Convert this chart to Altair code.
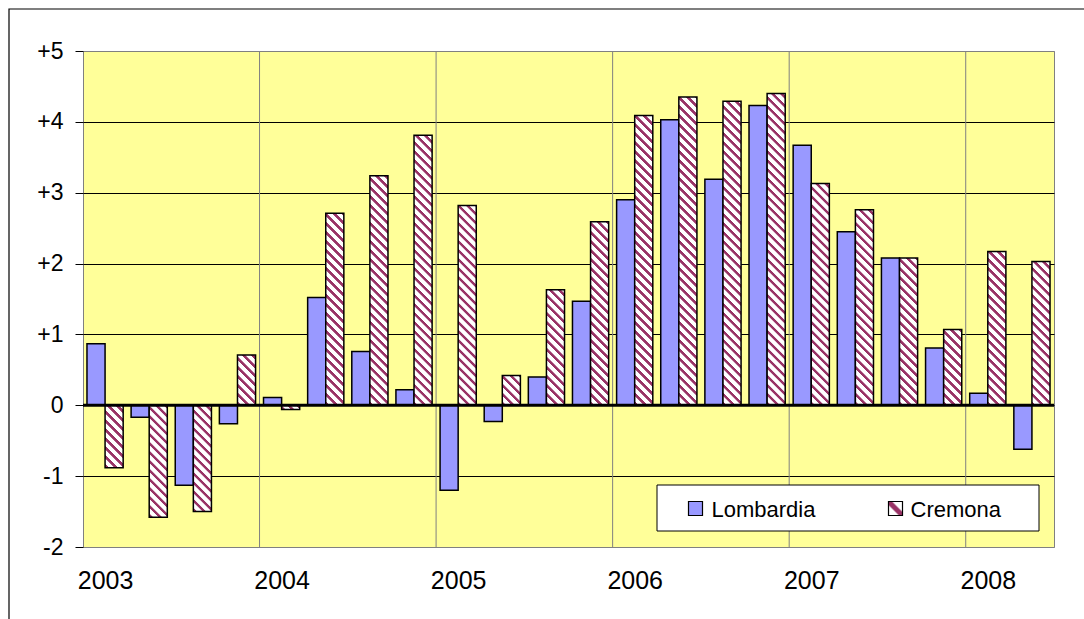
import math

import altair as alt
import pandas as pd

# Quarterly values, 2003 Q1 .. 2008 Q2
years = [2003, 2004, 2005, 2006, 2007, 2008]
lombardia = [0.87, -0.17, -1.13, -0.26,
             0.11, 1.52, 0.76, 0.22,
             -1.20, -0.23, 0.40, 1.47,
             2.90, 4.03, 3.19, 4.23,
             3.67, 2.45, 2.08, 0.81,
             0.17, -0.62]
cremona = [-0.88, -1.58, -1.50, 0.71,
           -0.06, 2.71, 3.24, 3.81,
           2.82, 0.42, 1.63, 2.59,
           4.09, 4.35, 4.29, 4.40,
           3.13, 2.76, 2.08, 1.07,
           2.17, 2.03]
series = ["Lombardia", "Cremona"]
y_ticks = [-2, -1, 0, 1, 2, 3, 4, 5]

# Layout
W, H = 971, 496
PAD = {"left": 83, "top": 51, "right": 30, "bottom": 72}
Y_MIN, Y_MAX = y_ticks[0], y_ticks[-1]
N_Q = len(lombardia)
Q_PER_YEAR = 4
BAR_L0, BAR_MID, BAR_C1 = 0.09, 0.5, 0.91

FONT = "Liberation Sans, Arial, sans-serif"
BLUE = "#9999FF"
MAROON = "#993366"
PLOT_BG = "#FFFF99"
EDGE_GREY = "#808080"

df = pd.DataFrame({"idx": list(range(N_Q)), "lombardia": lombardia, "cremona": cremona})
df["l0"] = df["idx"] + BAR_L0
df["mid"] = df["idx"] + BAR_MID
df["c1"] = df["idx"] + BAR_C1
df["base"] = 0.0

bounds = pd.DataFrame({"q": [Q_PER_YEAR * i for i in range(1, len(years))]})

px_per_q = W / N_Q
px_per_unit = H / (Y_MAX - Y_MIN)
bar_w = (BAR_C1 - BAR_MID) * px_per_q


def hatch(w, h, period=6.36, on=0.48, soft=0.08):
    """Diagonal '\\' stripes as a linear gradient over a w x h box (pixels)."""
    h = max(h, 1.0)
    span = (w + h) / math.sqrt(2)
    n = span / period
    k = (w + h) / (w * w + h * h)
    stops = []
    i = 0
    while True:
        b = i / n
        if b >= 1:
            break
        for off, col in ((0.0, "white"), (soft, MAROON), (on - soft, MAROON), (on, "white")):
            o = min(1.0, b + off / n)
            stops.append({"offset": round(o, 5), "color": col})
        i += 1
    stops.append({"offset": 1.0, "color": "white"})
    return {"gradient": "linear", "x1": 0, "y1": 1,
            "x2": round(k * w, 6), "y2": round(1 - k * h, 6), "stops": stops}


x_scale = alt.Scale(domain=[0, N_Q], nice=False, zero=False)
y_scale = alt.Scale(domain=[Y_MIN, Y_MAX], nice=False, zero=False)

x_axis = alt.Axis(
    values=[Q_PER_YEAR * i + 0.5 for i in range(len(years))],
    labelExpr=f"'' + ({years[0]} + floor(datum.value / {Q_PER_YEAR}))",
    grid=False, ticks=False, domain=False, labelFlush=False,
    labelFontSize=25, labelPadding=21, labelColor="black", labelFont=FONT,
    title=None,
)
y_axis = alt.Axis(
    values=y_ticks,
    labelExpr="datum.value > 0 ? '+' + datum.value : '' + datum.value",
    grid=True, gridWidth=1,
    gridColor={"condition": {"test": f"datum.value == {Y_MIN} || datum.value == {Y_MAX}",
                             "value": EDGE_GREY}, "value": "black"},
    domain=False, ticks=True, tickColor="black", tickSize=8, tickWidth=1,
    labelFontSize=23, labelPadding=12, labelColor="black", labelFont=FONT,
    labelFlush=False, title=None,
)


def X(field):
    return alt.X(field, type="quantitative", scale=x_scale, axis=x_axis)


def Y(field):
    return alt.Y(field, type="quantitative", scale=y_scale, axis=y_axis)


# Vertical year separators
year_lines = alt.Chart(bounds).mark_rule(color=EDGE_GREY, strokeWidth=1).encode(x=X("q"))

# Lombardia bars
lomb_bars = alt.Chart(df).mark_rect(fill=BLUE, stroke="black", strokeWidth=1.5).encode(
    x=X("l0"), x2="mid:Q", y=Y("lombardia"), y2="base:Q"
)

# Cremona bars, each with a hatch sized to its own box
crem_layers = []
for i, v in enumerate(cremona):
    grad = hatch(bar_w, abs(v) * px_per_unit)
    crem_layers.append(
        alt.Chart(df).transform_filter(alt.datum.idx == i)
        .mark_rect(fill=grad, stroke="black", strokeWidth=1.5)
        .encode(x=X("mid"), x2="c1:Q", y=Y("cremona"), y2="base:Q")
    )

# Zero line
zero_line = alt.Chart(df.head(1)).mark_rule(color="black", strokeWidth=3).encode(y=Y("base"))

# Legend box
one = pd.DataFrame({"k": [0]})
leg_box = alt.Chart(one).mark_rect(fill="white", stroke="black", strokeWidth=1).encode(
    x=alt.value(574), x2=alt.value(956), y=alt.value(434), y2=alt.value(480)
)
leg_sw_l = alt.Chart(one).mark_rect(fill=BLUE, stroke="black", strokeWidth=1.2).encode(
    x=alt.value(605.5), x2=alt.value(619.5), y=alt.value(450.5), y2=alt.value(464.5)
)
sq_grad = hatch(14, 14, period=14, on=0.0)
sq_grad["stops"] = [
    {"offset": 0.0, "color": "white"}, {"offset": 0.34, "color": "white"},
    {"offset": 0.41, "color": MAROON}, {"offset": 0.59, "color": MAROON},
    {"offset": 0.66, "color": "white"}, {"offset": 1.0, "color": "white"},
]
leg_sw_c = alt.Chart(one).mark_rect(fill=sq_grad, stroke="black", strokeWidth=1.2).encode(
    x=alt.value(805.5), x2=alt.value(819.5), y=alt.value(450.5), y2=alt.value(464.5)
)
leg_txt_l = alt.Chart(one).mark_text(
    text=series[0], align="left", baseline="alphabetic", font=FONT, fontSize=22, color="black"
).encode(x=alt.value(628.5), y=alt.value(466))
leg_txt_c = alt.Chart(one).mark_text(
    text=series[1], align="left", baseline="alphabetic", font=FONT, fontSize=22, color="black"
).encode(x=alt.value(827.5), y=alt.value(466))

# Outer chart frame
frame = alt.Chart(one).mark_rect(fill="transparent", stroke="black", strokeWidth=1.2).encode(
    x=alt.value(9 - PAD["left"]), x2=alt.value(1200), y=alt.value(9 - PAD["top"]), y2=alt.value(800)
)

chart = alt.layer(
    year_lines, lomb_bars, *crem_layers, zero_line,
    leg_box, leg_sw_l, leg_sw_c, leg_txt_l, leg_txt_c, frame,
).properties(
    width=W, height=H, padding=PAD, autosize=alt.AutoSizeParams(type="none"),
    background="white",
).configure_view(
    fill=PLOT_BG, stroke=EDGE_GREY, strokeWidth=1
)

chart.save("out.html", embed_options={"renderer": "svg", "actions": False})
